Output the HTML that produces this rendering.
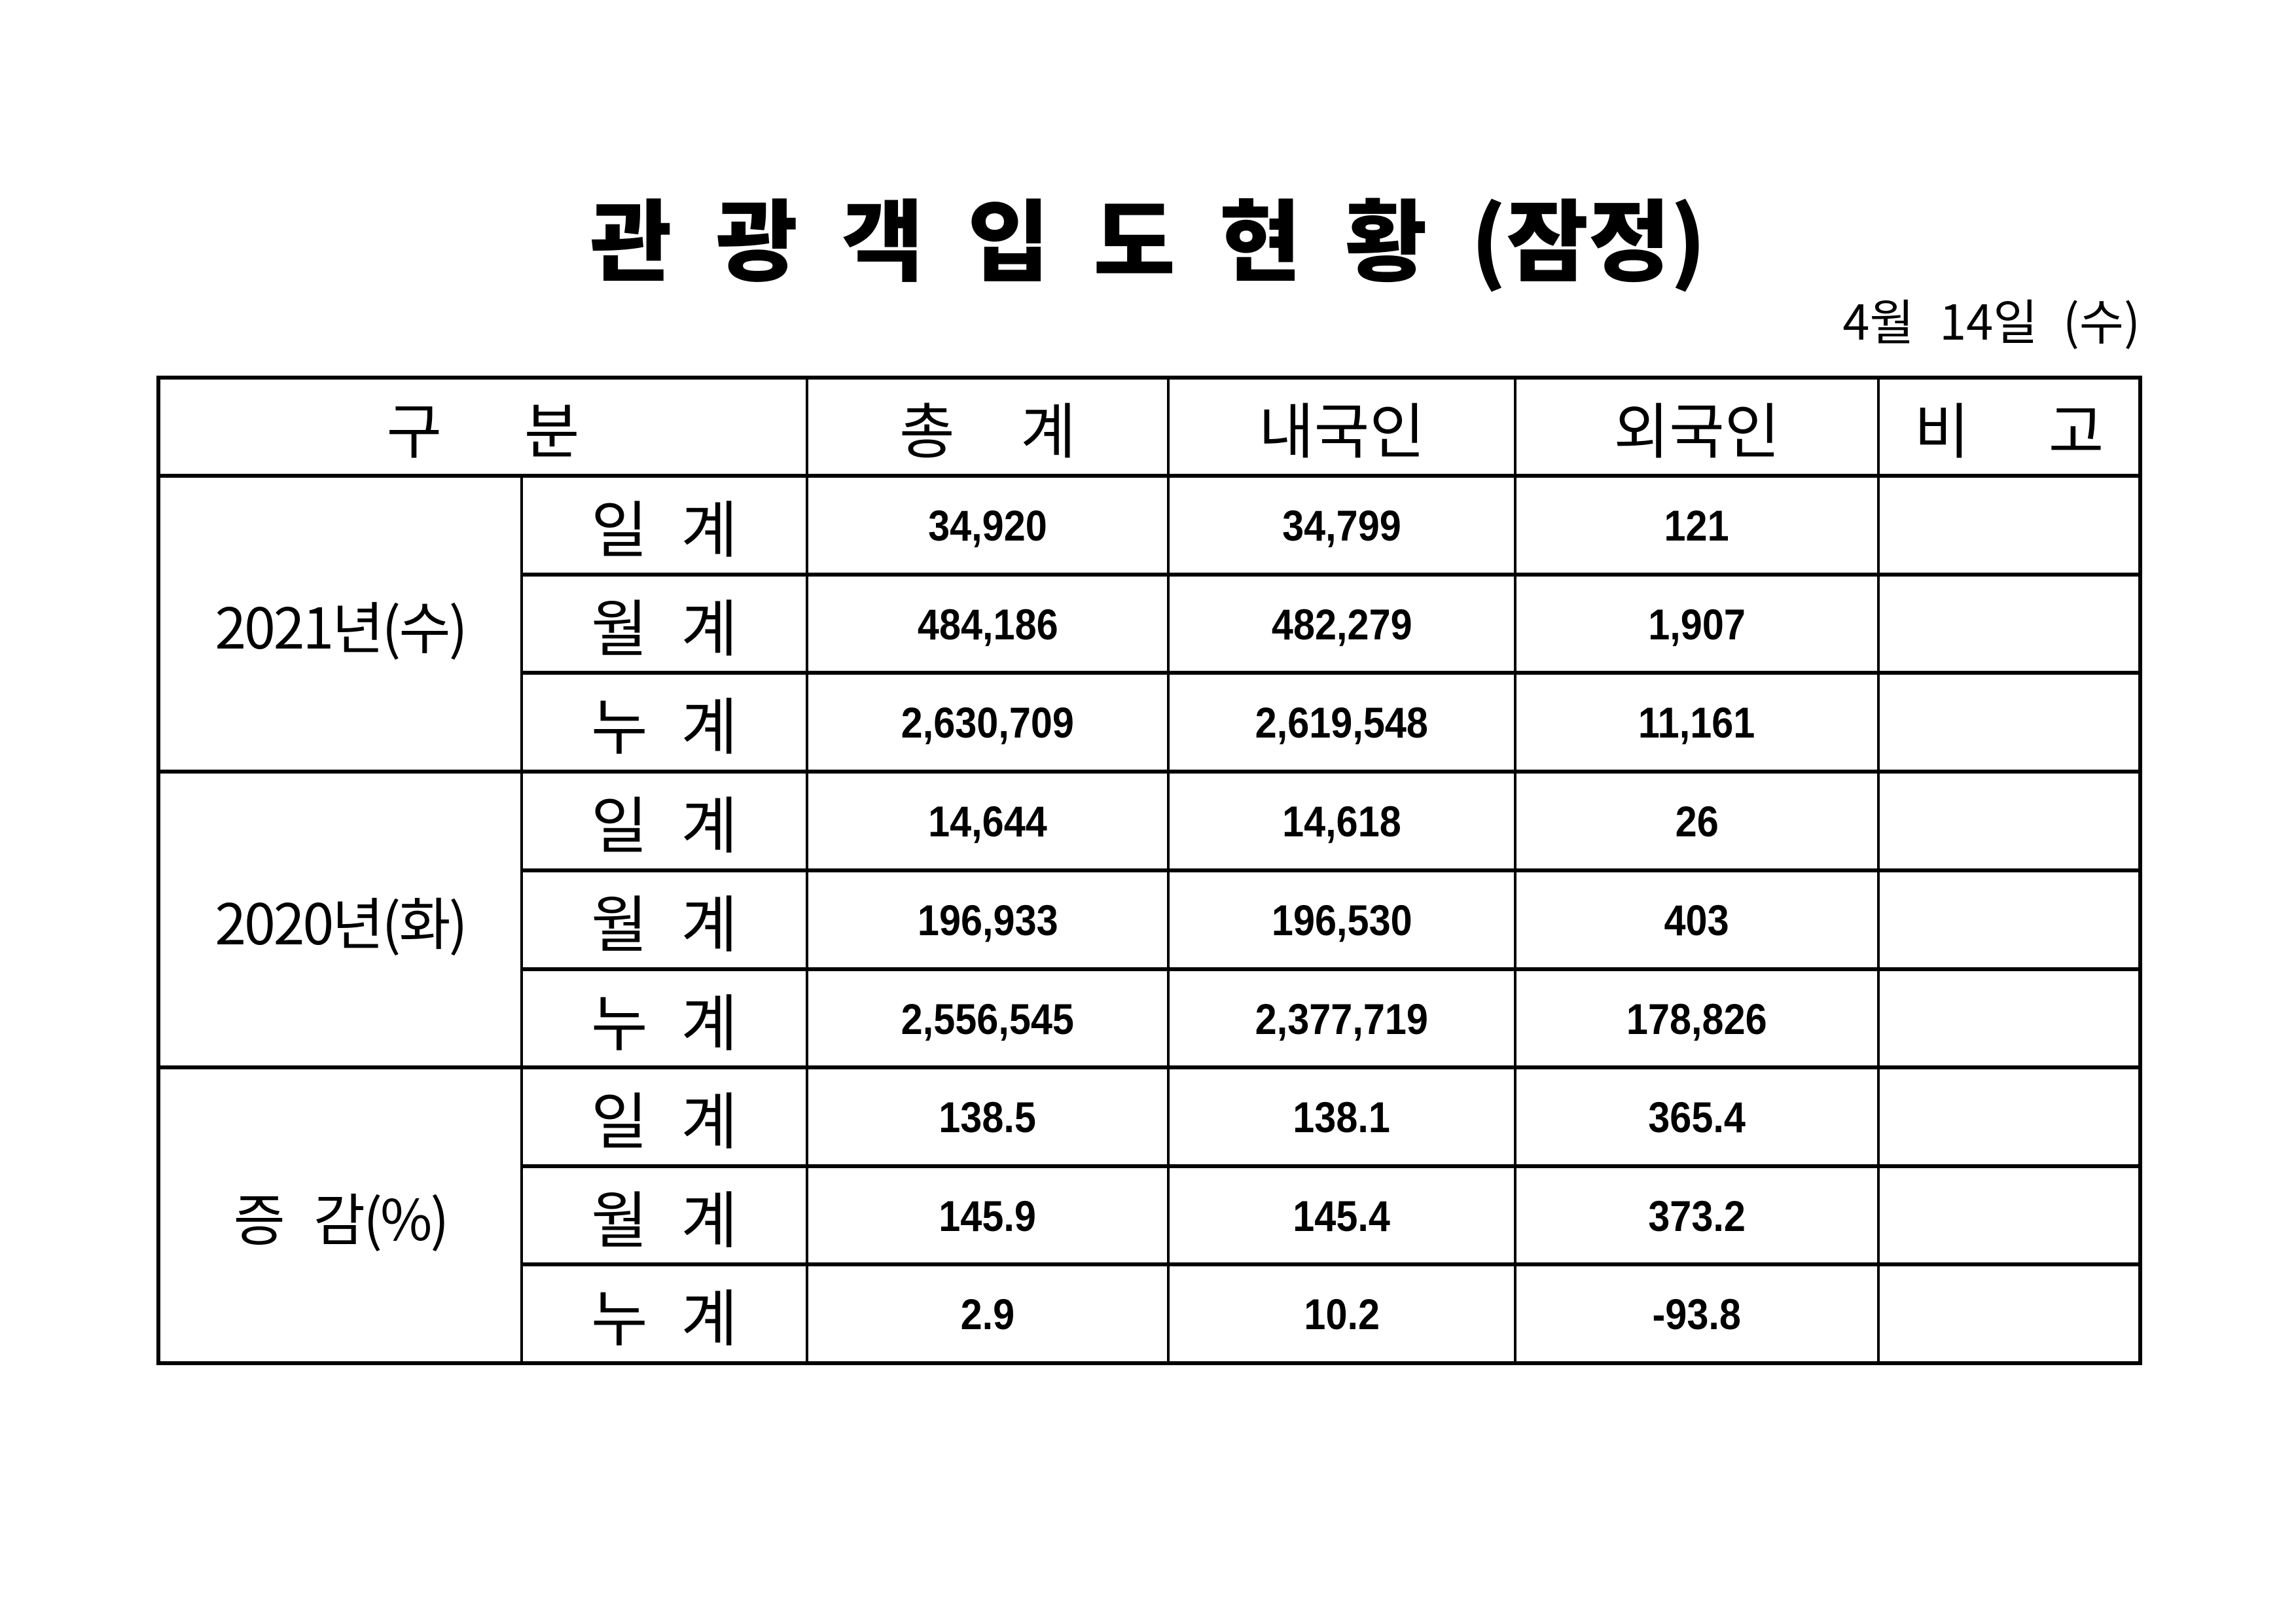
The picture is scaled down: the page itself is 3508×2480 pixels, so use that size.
<!DOCTYPE html>
<html><head><meta charset="utf-8"><style>
html,body{margin:0;padding:0;background:#fff}
body{width:3508px;height:2480px;position:relative;overflow:hidden;font-family:"Liberation Sans","Noto Sans CJK KR",sans-serif;color:#000}
.title{position:absolute;left:0;width:3508px;top:280px;text-align:center;font-family:"Noto Sans CJK KR",sans-serif;font-weight:900;font-size:136px;line-height:160px;word-spacing:36px;white-space:nowrap}
.date{position:absolute;right:238px;top:446px;font-family:"Noto Sans CJK KR",sans-serif;font-size:74px;line-height:84px;word-spacing:22px;white-space:nowrap}
.hl{position:absolute;background:#000;height:6px}
.vl{position:absolute;background:#000;width:4px}
.c{position:absolute;display:flex;align-items:center;justify-content:center;white-space:nowrap}
.h{font-family:"Noto Sans CJK KR",sans-serif;font-size:92px}
.g{font-family:"Noto Sans CJK KR",sans-serif;font-size:86px;letter-spacing:-3px}
.k{font-family:"Noto Sans CJK KR",sans-serif;font-size:94px;word-spacing:30px}
.n{font-family:"Liberation Sans",sans-serif;font-weight:bold;font-size:66px}
.n span{display:inline-block;transform:scaleX(0.9)}
</style></head><body>
<div class="title">관 광 객 입 도 현 황 (잠정)</div>
<div class="date">4월 14일 (수)</div>

<div class="hl" style="left:239px;width:3034px;top:574px"></div>
<div class="hl" style="left:239px;width:3034px;top:724px"></div>
<div class="hl" style="left:796px;width:2477px;top:875px"></div>
<div class="hl" style="left:796px;width:2477px;top:1025px"></div>
<div class="hl" style="left:239px;width:3034px;top:1176px"></div>
<div class="hl" style="left:796px;width:2477px;top:1327px"></div>
<div class="hl" style="left:796px;width:2477px;top:1478px"></div>
<div class="hl" style="left:239px;width:3034px;top:1628px"></div>
<div class="hl" style="left:796px;width:2477px;top:1779px"></div>
<div class="hl" style="left:796px;width:2477px;top:1929px"></div>
<div class="hl" style="left:239px;width:3034px;top:2080px"></div>
<div class="vl" style="left:239px;top:574px;height:1512px;width:6px"></div>
<div class="vl" style="left:3267px;top:574px;height:1512px;width:6px"></div>
<div class="vl" style="left:795px;top:727px;height:1356px"></div>
<div class="vl" style="left:1231px;top:574px;height:1512px"></div>
<div class="vl" style="left:1783px;top:574px;height:1512px"></div>
<div class="vl" style="left:2313px;top:574px;height:1512px"></div>
<div class="vl" style="left:2868px;top:574px;height:1512px"></div>

<div class="c h" style="left:245px;width:986px;top:580px;height:144px"><span style="word-spacing:105px">구 분</span></div>
<div class="c h" style="left:1235px;width:548px;top:580px;height:144px"><span style="word-spacing:80px">총 계</span></div>
<div class="c h" style="left:1787px;width:526px;top:580px;height:144px">내국인</div>
<div class="c h" style="left:2317px;width:551px;top:580px;height:144px">외국인</div>
<div class="c h" style="left:2872px;width:395px;top:580px;height:144px"><span style="word-spacing:100px">비 고</span></div>

<div class="c g" style="left:245px;width:550px;top:730px;height:446px">2021년(수)</div>
<div class="c g" style="left:245px;width:550px;top:1182px;height:446px">2020년(화)</div>
<div class="c g" style="left:245px;width:550px;top:1634px;height:446px;word-spacing:30px">증 감(%)</div>

<div class="c k" style="left:799px;width:432px;top:730px;height:145px">일 계</div>
<div class="c k" style="left:799px;width:432px;top:881px;height:145px">월 계</div>
<div class="c k" style="left:799px;width:432px;top:1031px;height:145px">누 계</div>
<div class="c k" style="left:799px;width:432px;top:1182px;height:145px">일 계</div>
<div class="c k" style="left:799px;width:432px;top:1333px;height:145px">월 계</div>
<div class="c k" style="left:799px;width:432px;top:1484px;height:145px">누 계</div>
<div class="c k" style="left:799px;width:432px;top:1634px;height:145px">일 계</div>
<div class="c k" style="left:799px;width:432px;top:1785px;height:145px">월 계</div>
<div class="c k" style="left:799px;width:432px;top:1935px;height:145px">누 계</div>

<div class="c n" style="left:1235px;width:548px;top:730px;height:145px"><span>34,920</span></div>
<div class="c n" style="left:1787px;width:526px;top:730px;height:145px"><span>34,799</span></div>
<div class="c n" style="left:2317px;width:551px;top:730px;height:145px"><span>121</span></div>
<div class="c n" style="left:1235px;width:548px;top:881px;height:145px"><span>484,186</span></div>
<div class="c n" style="left:1787px;width:526px;top:881px;height:145px"><span>482,279</span></div>
<div class="c n" style="left:2317px;width:551px;top:881px;height:145px"><span>1,907</span></div>
<div class="c n" style="left:1235px;width:548px;top:1031px;height:145px"><span>2,630,709</span></div>
<div class="c n" style="left:1787px;width:526px;top:1031px;height:145px"><span>2,619,548</span></div>
<div class="c n" style="left:2317px;width:551px;top:1031px;height:145px"><span>11,161</span></div>
<div class="c n" style="left:1235px;width:548px;top:1182px;height:145px"><span>14,644</span></div>
<div class="c n" style="left:1787px;width:526px;top:1182px;height:145px"><span>14,618</span></div>
<div class="c n" style="left:2317px;width:551px;top:1182px;height:145px"><span>26</span></div>
<div class="c n" style="left:1235px;width:548px;top:1333px;height:145px"><span>196,933</span></div>
<div class="c n" style="left:1787px;width:526px;top:1333px;height:145px"><span>196,530</span></div>
<div class="c n" style="left:2317px;width:551px;top:1333px;height:145px"><span>403</span></div>
<div class="c n" style="left:1235px;width:548px;top:1484px;height:145px"><span>2,556,545</span></div>
<div class="c n" style="left:1787px;width:526px;top:1484px;height:145px"><span>2,377,719</span></div>
<div class="c n" style="left:2317px;width:551px;top:1484px;height:145px"><span>178,826</span></div>
<div class="c n" style="left:1235px;width:548px;top:1634px;height:145px"><span>138.5</span></div>
<div class="c n" style="left:1787px;width:526px;top:1634px;height:145px"><span>138.1</span></div>
<div class="c n" style="left:2317px;width:551px;top:1634px;height:145px"><span>365.4</span></div>
<div class="c n" style="left:1235px;width:548px;top:1785px;height:145px"><span>145.9</span></div>
<div class="c n" style="left:1787px;width:526px;top:1785px;height:145px"><span>145.4</span></div>
<div class="c n" style="left:2317px;width:551px;top:1785px;height:145px"><span>373.2</span></div>
<div class="c n" style="left:1235px;width:548px;top:1935px;height:145px"><span>2.9</span></div>
<div class="c n" style="left:1787px;width:526px;top:1935px;height:145px"><span>10.2</span></div>
<div class="c n" style="left:2317px;width:551px;top:1935px;height:145px"><span>-93.8</span></div>
</body></html>
